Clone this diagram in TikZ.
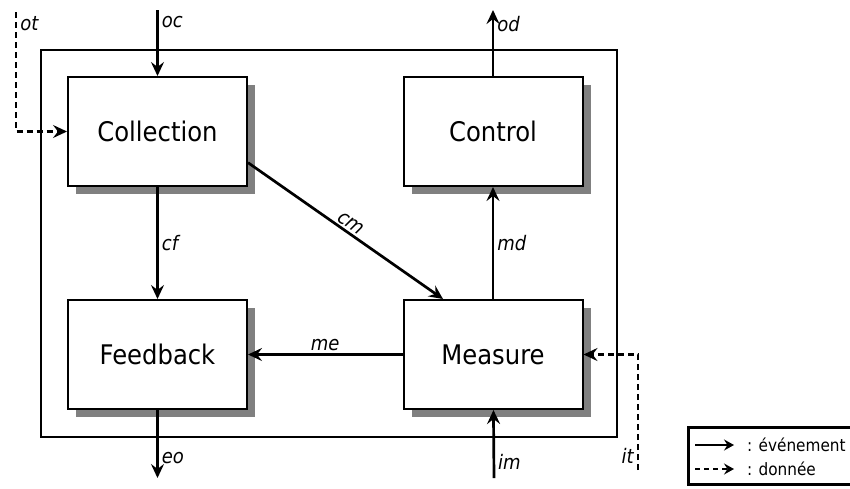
\documentclass[tikz,border=0pt]{standalone}
\usepackage{fontspec}
\setmainfont{DejaVu Sans Condensed}
\usetikzlibrary{positioning,shadows,arrows.meta}

\begin{document}
\begin{tikzpicture}[x=1pt,y=-1pt,node distance=1cm,on grid,line width=2pt,
  >={Stealth[length=14pt,width=13pt,inset=5pt]},
  block/.style={draw,fill=white,minimum width=179pt,minimum height=109pt,
    font=\fontsize{27}{30}\selectfont,
    drop shadow={shadow xshift=8pt,shadow yshift=-8pt,opacity=1,fill=black!50}},
  lbl/.style={font=\fontsize{20}{22}\selectfont\itshape,inner sep=3pt},
  link/.style={->,line width=2.7pt},
  data/.style={->,line width=2.7pt,dash pattern=on 6pt off 4pt},
  key/.style={right,inner sep=0pt,font=\fontsize{17}{19}\selectfont}]
\useasboundingbox (0,0) rectangle (850,488);
% system frame
\draw (41,50) rectangle (617,437);
\node[block] (coll) at (157.5,131.5) {Collection};
\node[block] (ctrl) [right=335.5pt of coll] {Control};
\node[block] (feed) [below=223pt of coll] {Feedback};
\node[block] (meas) [right=335.5pt of feed] {Measure};
% outer ends
\coordinate (oc) at (157.5,10);
\coordinate (ot) at (16,12);
\coordinate (od) at (493,10);
\coordinate (eo) at (157.5,478);
\coordinate (im) at (494,478);
\coordinate (it) at (638,470);
\draw[link] (oc) -- node[lbl,right,pos=0.18] {oc} (coll);
\draw[data] (ot) |- node[lbl,right,pos=0.05] {ot} (coll);
\draw[link] (ctrl) -- node[lbl,right,pos=0.78] {od} (od);
\draw[link] (coll) -- node[lbl,right] {cf} (feed);
\draw[link] (coll.-19) -- node[lbl,sloped,above,inner sep=2pt] {cm} (meas.132);
\draw[link] (meas) -- node[lbl,right] {md} (ctrl);
\draw[link] (meas) -- node[lbl,above,inner sep=2pt] {me} (feed);
\draw[link] (feed) -- node[lbl,right,pos=0.7] {eo} (eo);
\draw[link] (im) -- node[lbl,right,pos=0.23] {im} (meas);
\draw[data] (it) |- node[lbl,left,pos=0.06] {it} (meas);
% legend
\draw[line width=3pt] (688,427) rectangle (854,484);
\coordinate (ev1) at (695,445);
\coordinate (ev2) at (734,445);
\coordinate (do1) at (695,469);
\coordinate (do2) at (734,469);
\draw[link,-{Stealth[length=10pt,width=11pt,inset=3.5pt]}] (ev1) -- (ev2);
\node[key] (ev) at (746,445) {: événement};
\draw[data,dash pattern=on 5pt off 4pt,-{Stealth[length=10pt,width=11pt,inset=3.5pt]}] (do1) -- (do2);
\node[key] (do) at (746,469) {: donnée};
\end{tikzpicture}
\end{document}
